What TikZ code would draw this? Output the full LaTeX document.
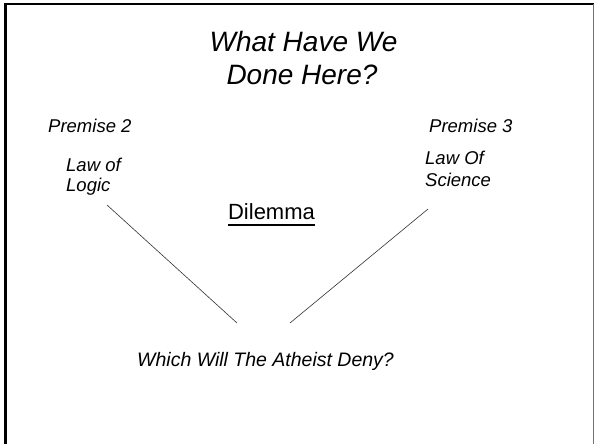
\documentclass[tikz,border=0pt]{standalone}
\usepackage{fontspec}
\setmainfont{Liberation Sans}
\begin{document}
\begin{tikzpicture}[x=1bp,y=-1bp,
  lbl/.style={inner sep=0pt, font=\itshape},
  conn/.style={draw=black!80, line width=0.6bp}]
\useasboundingbox (0,0) rectangle (594,444);
\fill[white] (0,0) rectangle (594,444);
% frame
\draw[line width=2.6bp] (5.3,444) -- (5.3,4) -- (594,4);
\draw[black!55, line width=1bp] (593,4) -- (593,444);
% title
\node[lbl, anchor=base, font=\itshape\fontsize{28bp}{33bp}\selectfont] (t1) at (303.5,51.7) {What Have We};
\node[lbl, anchor=base, font=\itshape\fontsize{28bp}{33bp}\selectfont] (t2) at (302,85) {Done Here?};
% premises
\node[lbl, anchor=base west, font=\itshape\fontsize{18.5bp}{22bp}\selectfont] (p2) at (48,132.7) {Premise 2};
\node[lbl, anchor=base west, font=\itshape\fontsize{18.5bp}{22bp}\selectfont] (p3) at (429,132.7) {Premise 3};
\node[lbl, anchor=base west, font=\itshape\fontsize{18.5bp}{22bp}\selectfont] (l1) at (66,171.7) {Law of};
\node[lbl, anchor=base west, font=\itshape\fontsize{18.5bp}{22bp}\selectfont] (l2) at (66,191.7) {Logic};
\node[lbl, anchor=base west, font=\itshape\fontsize{18.5bp}{22bp}\selectfont] (s1) at (425,165) {Law Of};
\node[lbl, anchor=base west, font=\itshape\fontsize{18.5bp}{22bp}\selectfont] (s2) at (425,186.7) {Science};
% dilemma
\node[inner sep=0pt, anchor=base, font=\fontsize{22bp}{26bp}\selectfont] (dil) at (271.5,220) {Dilemma};
\draw[line width=1.5bp] ([yshift=-5bp]dil.base west) -- ([yshift=-5bp]dil.base east);
% question
\node[lbl, anchor=base west, font=\itshape\fontsize{19.5bp}{24bp}\selectfont] (q) at (137,366.7) {Which Will The Atheist Deny?};
% connectors
\coordinate (la) at (107,205);
\coordinate (lb) at (237,323);
\coordinate (ra) at (428,209);
\coordinate (rb) at (290,323);
\draw[conn] (la) -- (lb);
\draw[conn] (ra) -- (rb);
\end{tikzpicture}
\end{document}
